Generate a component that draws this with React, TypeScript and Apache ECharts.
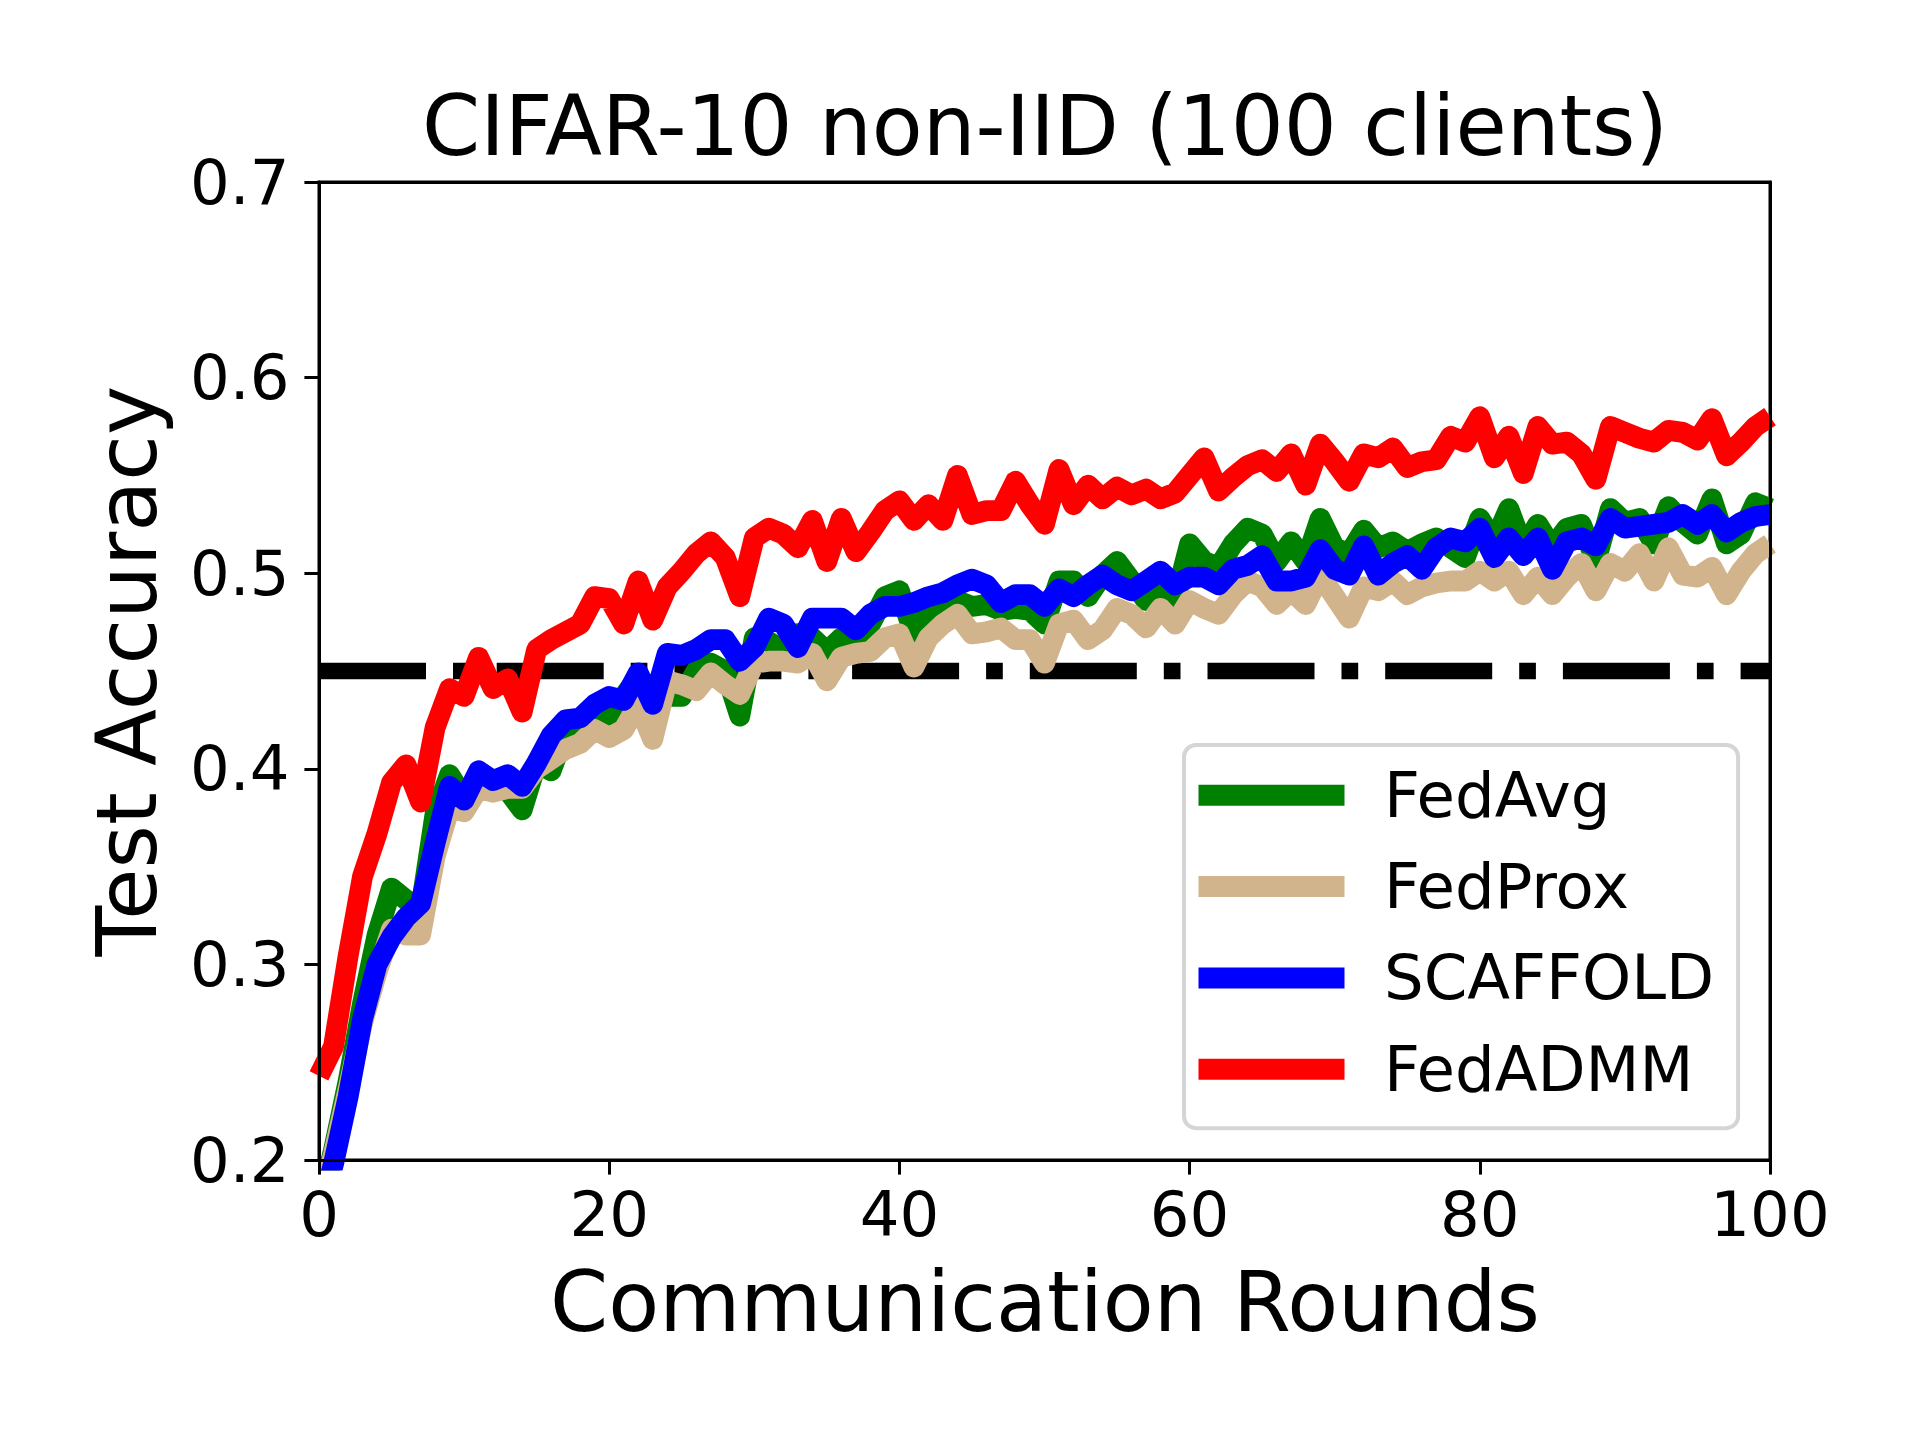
import React, { useEffect, useRef } from "react";
import * as echarts from "echarts";

const rounds: number[] = Array.from({ length: 101 }, (_, i) => i);

const fedAvg: number[] = [
  0.175, 0.205, 0.24, 0.28, 0.315, 0.339, 0.333, 0.328, 0.377, 0.397,
  0.385, 0.397, 0.393, 0.389, 0.379, 0.403, 0.399, 0.419, 0.421, 0.431,
  0.425, 0.437, 0.447, 0.433, 0.437, 0.437, 0.45, 0.454, 0.45, 0.427,
  0.467, 0.465, 0.46, 0.469, 0.467, 0.46, 0.467, 0.464, 0.474, 0.488,
  0.491, 0.469, 0.479, 0.483, 0.486, 0.483, 0.484, 0.481, 0.482, 0.481,
  0.474, 0.496, 0.496, 0.488, 0.499, 0.506, 0.496, 0.486, 0.493, 0.486,
  0.515, 0.506, 0.503, 0.515, 0.523, 0.52, 0.506, 0.516, 0.506, 0.528,
  0.513, 0.51, 0.522, 0.513, 0.516, 0.511, 0.515, 0.518, 0.513, 0.508,
  0.528, 0.516, 0.533, 0.513, 0.525, 0.513, 0.523, 0.525, 0.506, 0.533,
  0.526, 0.528, 0.515, 0.534, 0.526, 0.52, 0.538, 0.515, 0.52, 0.536,
  0.533,
];

const fedProx: number[] = [
  0.175, 0.203, 0.236, 0.27, 0.296, 0.318, 0.315, 0.315, 0.355, 0.38,
  0.378, 0.39, 0.388, 0.39, 0.39, 0.4, 0.405, 0.41, 0.413, 0.42,
  0.416, 0.42, 0.433, 0.415, 0.445, 0.443, 0.44, 0.449, 0.443, 0.438,
  0.454, 0.455, 0.455, 0.454, 0.459, 0.445, 0.457, 0.459, 0.46, 0.467,
  0.469, 0.452, 0.467, 0.474, 0.479, 0.469, 0.47, 0.472, 0.466, 0.466,
  0.454, 0.474, 0.476, 0.466, 0.471, 0.482, 0.479, 0.472, 0.482, 0.474,
  0.486, 0.482, 0.479, 0.489, 0.496, 0.493, 0.484, 0.491, 0.484, 0.499,
  0.488, 0.477, 0.493, 0.491, 0.496, 0.489, 0.493, 0.495, 0.496, 0.496,
  0.501, 0.496, 0.501, 0.489, 0.498, 0.489, 0.498, 0.505, 0.491, 0.505,
  0.501, 0.51, 0.496, 0.513, 0.499, 0.498, 0.503, 0.489, 0.501, 0.51,
  0.515,
];

const scaffold: number[] = [
  0.17, 0.198, 0.232, 0.272, 0.3, 0.314, 0.324, 0.331, 0.362, 0.391,
  0.384, 0.399, 0.394, 0.397, 0.391, 0.403, 0.417, 0.425, 0.426, 0.433,
  0.437, 0.435, 0.449, 0.433, 0.459, 0.458, 0.461, 0.466, 0.466, 0.455,
  0.462, 0.477, 0.474, 0.462, 0.477, 0.477, 0.477, 0.471, 0.479, 0.483,
  0.483, 0.485, 0.488, 0.49, 0.494, 0.497, 0.494, 0.485, 0.489, 0.489,
  0.483, 0.492, 0.488, 0.494, 0.499, 0.494, 0.491, 0.496, 0.501, 0.494,
  0.498, 0.498, 0.494, 0.502, 0.504, 0.509, 0.496, 0.496, 0.498, 0.512,
  0.502, 0.499, 0.514, 0.499, 0.505, 0.509, 0.502, 0.513, 0.518, 0.516,
  0.523, 0.508, 0.518, 0.509, 0.518, 0.502, 0.516, 0.518, 0.514, 0.528,
  0.523, 0.524, 0.525, 0.526, 0.53, 0.525, 0.53, 0.521, 0.526, 0.529,
  0.53,
];

const fedAdmm: number[] = [
  0.243, 0.258, 0.304, 0.345, 0.367, 0.393, 0.402, 0.383, 0.421, 0.441,
  0.437, 0.457, 0.441, 0.446, 0.429, 0.461, 0.466, 0.47, 0.474, 0.488,
  0.487, 0.474, 0.496, 0.476, 0.493, 0.501, 0.51, 0.516, 0.508, 0.488,
  0.518, 0.523, 0.52, 0.513, 0.527, 0.506, 0.528, 0.511, 0.521, 0.532,
  0.537, 0.527, 0.535, 0.527, 0.55, 0.53, 0.532, 0.532, 0.547, 0.535,
  0.525, 0.553, 0.535, 0.545, 0.538, 0.544, 0.54, 0.543, 0.538, 0.541,
  0.55, 0.559, 0.542, 0.549, 0.555, 0.558, 0.552, 0.561, 0.545, 0.566,
  0.557, 0.547, 0.561, 0.559, 0.564, 0.554, 0.557, 0.558, 0.57, 0.567,
  0.58, 0.559, 0.57, 0.551, 0.575, 0.566, 0.567, 0.561, 0.548, 0.575,
  0.572, 0.569, 0.567, 0.573, 0.572, 0.568, 0.579, 0.56, 0.567, 0.575,
  0.58,
];

const targetAccuracy = 0.45;
const targetRange: number[] = [0, 100];

const seriesNames: string[] = ["FedAvg", "FedProx", "SCAFFOLD", "FedADMM"];
const seriesColors: string[] = ["#008000", "#d2b48c", "#0000ff", "#ff0000"];
const seriesValues: number[][] = [fedAvg, fedProx, scaffold, fedAdmm];

const titleText = "CIFAR-10 non-IID (100 clients)";
const xAxisTitle = "Communication Rounds";
const yAxisTitle = "Test Accuracy";

const FONT = "DejaVu Sans";

export default function App() {
  const ref = useRef<HTMLDivElement | null>(null);

  useEffect(() => {
    if (!ref.current) return;
    const chart = echarts.init(ref.current, undefined, { renderer: "svg" });

    const lineSeries = seriesNames.map((name, k) => ({
      name,
      type: "line",
      data: rounds.map((r, i) => [r, seriesValues[k][i]]),
      symbol: "none",
      showSymbol: false,
      color: seriesColors[k],
      itemStyle: { color: seriesColors[k] },
      lineStyle: { color: seriesColors[k], width: 20.8, join: "round", cap: "butt" },
      clip: true,
      silent: true,
      z: 3,
    }));

    const option: any = {
      animation: false,
      backgroundColor: "#ffffff",
      title: {
        text: titleText,
        left: 1045,
        top: 85,
        textAlign: "center",
        padding: 0,
        textStyle: {
          fontFamily: FONT,
          fontSize: 83.3,
          fontWeight: "normal",
          color: "#000",
          lineHeight: 83.3,
        },
      },
      grid: {
        left: 319,
        top: 182,
        width: 1451,
        height: 978,
        show: true,
        borderColor: "#000",
        borderWidth: 3,
        backgroundColor: "transparent",
        containLabel: false,
      },
      xAxis: [
        {
          type: "value",
          min: 0,
          max: 100,
          interval: 20,
          z: 10,
          axisLine: { show: true, onZero: false, lineStyle: { color: "#000", width: 3 } },
          axisTick: { show: true, length: 14.6, lineStyle: { color: "#000", width: 3 } },
          axisLabel: { margin: 23, color: "#000", fontFamily: FONT, fontSize: 62.5 },
          splitLine: { show: false },
        },
        {
          type: "value",
          position: "top",
          min: 0,
          max: 100,
          z: 10,
          axisLine: { show: true, onZero: false, lineStyle: { color: "#000", width: 3 } },
          axisTick: { show: false },
          axisLabel: { show: false },
          splitLine: { show: false },
        },
      ],
      yAxis: [
        {
          type: "value",
          min: 0.2,
          max: 0.7,
          interval: 0.1,
          z: 10,
          axisLine: { show: true, onZero: false, lineStyle: { color: "#000", width: 3 } },
          axisTick: { show: true, length: 14.6, lineStyle: { color: "#000", width: 3 } },
          axisLabel: {
            margin: 29.5,
            color: "#000",
            fontFamily: FONT,
            fontSize: 62.5,
            formatter: (v: number) => v.toFixed(1),
          },
          splitLine: { show: false },
        },
        {
          type: "value",
          position: "right",
          min: 0.2,
          max: 0.7,
          z: 10,
          axisLine: { show: true, onZero: false, lineStyle: { color: "#000", width: 3 } },
          axisTick: { show: false },
          axisLabel: { show: false },
          splitLine: { show: false },
        },
      ],
      legend: {
        data: seriesNames,
        orient: "vertical",
        left: 1184,
        top: 745,
        padding: [15.3, 24, 24, 14.5],
        itemWidth: 146,
        itemHeight: 21,
        itemGap: 21.3,
        icon: "rect",
        selectedMode: false,
        backgroundColor: "rgba(255,255,255,0.8)",
        borderColor: "#d5d5d5",
        borderWidth: 4,
        borderRadius: 12,
        itemStyle: { borderWidth: 0 },
        textStyle: {
          fontFamily: FONT,
          fontSize: 62.5,
          color: "#000",
          lineHeight: 70,
          padding: [0, 0, 0, 34.5],
        },
        z: 20,
      },
      graphic: [
        {
          type: "text",
          x: 1045,
          y: 1302,
          z: 20,
          style: {
            text: xAxisTitle,
            fontFamily: FONT,
            fontSize: 83.3,
            fill: "#000",
            textAlign: "center",
            textVerticalAlign: "middle",
            align: "center",
            verticalAlign: "middle",
          },
        },
        {
          type: "text",
          x: 127,
          y: 671,
          rotation: Math.PI / 2,
          z: 20,
          style: {
            text: yAxisTitle,
            fontFamily: FONT,
            fontSize: 83.3,
            fill: "#000",
            textAlign: "center",
            textVerticalAlign: "middle",
            align: "center",
            verticalAlign: "middle",
          },
        },
      ],
      series: [
        {
          name: "Target",
          type: "line",
          data: targetRange.map((r) => [r, targetAccuracy]),
          symbol: "none",
          showSymbol: false,
          silent: true,
          clip: true,
          lineStyle: { color: "#000", width: 16.7, type: [107, 27, 16.7, 27], cap: "butt" },
          z: 2,
        },
        ...lineSeries,
      ],
    };

    chart.setOption(option);
    return () => {
      chart.dispose();
    };
  }, []);

  return (
    <div
      ref={ref}
      style={{ position: "fixed", left: 0, top: 0, width: 1920, height: 1440, background: "#fff" }}
    />
  );
}
